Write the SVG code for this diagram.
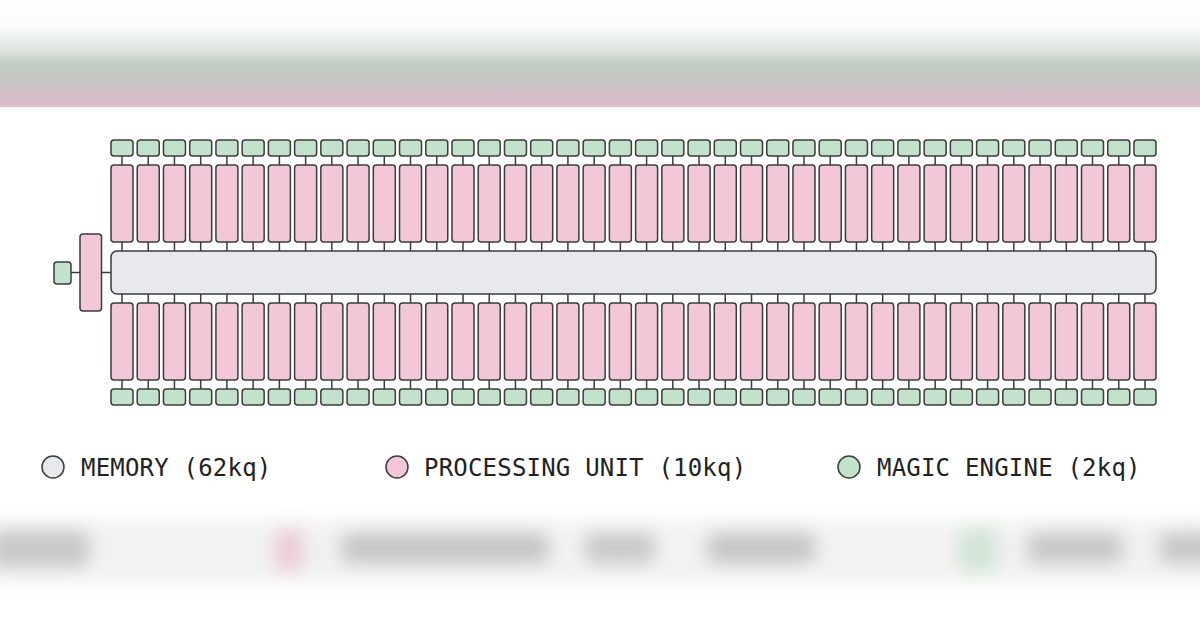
<svg xmlns="http://www.w3.org/2000/svg" xmlns:xlink="http://www.w3.org/1999/xlink" width="1200" height="628" viewBox="0 0 1200 628">
<style>
.mem{fill:#e8e9ec;stroke:#3c3c3c;stroke-width:1.5}
.pu{fill:#f2c8d8;stroke:#3c3c3c;stroke-width:1.5}
.me{fill:#c2e2cb;stroke:#3c3c3c;stroke-width:1.5}
.ln{fill:none;stroke:#3c3c3c;stroke-width:1.5}
.lg{font-family:"DejaVu Sans Mono","Liberation Mono",monospace;font-size:24px;letter-spacing:0.2px;fill:#222}
</style>
<defs>
<linearGradient id="topg" x1="0" y1="0" x2="0" y2="1">
<stop offset="0" stop-color="#ffffff"/>
<stop offset="0.25" stop-color="#fbfbfb"/>
<stop offset="0.45" stop-color="#dfe7e0"/>
<stop offset="0.6" stop-color="#c0cdc1"/>
<stop offset="0.75" stop-color="#c7c5c4"/>
<stop offset="0.9" stop-color="#d4bdc8"/>
<stop offset="1" stop-color="#dbbfcb"/>
</linearGradient>
<filter id="bl" x="-20%" y="-50%" width="140%" height="200%"><feGaussianBlur stdDeviation="9"/></filter>
<path id="conn" d="M11 156V165M11 242V251M11 294V303M11 380V389"/>
<g id="colshape">
<rect class="me" x="0" y="140" width="22" height="16" rx="3"/>
<rect class="pu" x="0" y="165" width="22" height="77" rx="3"/>
<rect class="pu" x="0" y="303" width="22" height="77" rx="3"/>
<rect class="me" x="0" y="389" width="22" height="16" rx="3"/>
</g>
</defs>
<rect width="1200" height="628" fill="#ffffff"/>
<rect x="0" y="0" width="1200" height="107" fill="url(#topg)"/>
<g filter="url(#bl)">
<rect x="-20" y="520" width="1240" height="62" fill="#f2f2f2"/>
<rect x="-10" y="530" width="100" height="38" rx="10" fill="#c8c8c8"/>
<rect x="274" y="528" width="30" height="44" rx="10" fill="#eccbd7"/>
<rect x="340" y="532" width="210" height="32" rx="10" fill="#c6c6c6"/>
<rect x="584" y="532" width="72" height="32" rx="10" fill="#c9c9c9"/>
<rect x="706" y="532" width="110" height="32" rx="10" fill="#c6c6c6"/>
<rect x="958" y="528" width="40" height="44" rx="10" fill="#d0e4d5"/>
<rect x="1026" y="532" width="98" height="32" rx="10" fill="#c8c8c8"/>
<rect x="1158" y="532" width="60" height="32" rx="10" fill="#c8c8c8"/>
</g>
<g id="connectors">
<path class="ln" d="M71 272.5H80M101.5 272.5H111"/>
<g class="ln">
<use xlink:href="#conn" x="111"/><use xlink:href="#conn" x="137.23"/><use xlink:href="#conn" x="163.46"/><use xlink:href="#conn" x="189.69"/><use xlink:href="#conn" x="215.92"/><use xlink:href="#conn" x="242.15"/><use xlink:href="#conn" x="268.38"/><use xlink:href="#conn" x="294.61"/><use xlink:href="#conn" x="320.84"/><use xlink:href="#conn" x="347.07"/>
<use xlink:href="#conn" x="373.3"/><use xlink:href="#conn" x="399.53"/><use xlink:href="#conn" x="425.76"/><use xlink:href="#conn" x="451.99"/><use xlink:href="#conn" x="478.22"/><use xlink:href="#conn" x="504.45"/><use xlink:href="#conn" x="530.68"/><use xlink:href="#conn" x="556.91"/><use xlink:href="#conn" x="583.14"/><use xlink:href="#conn" x="609.37"/>
<use xlink:href="#conn" x="635.6"/><use xlink:href="#conn" x="661.83"/><use xlink:href="#conn" x="688.06"/><use xlink:href="#conn" x="714.29"/><use xlink:href="#conn" x="740.52"/><use xlink:href="#conn" x="766.75"/><use xlink:href="#conn" x="792.98"/><use xlink:href="#conn" x="819.21"/><use xlink:href="#conn" x="845.44"/><use xlink:href="#conn" x="871.67"/>
<use xlink:href="#conn" x="897.9"/><use xlink:href="#conn" x="924.13"/><use xlink:href="#conn" x="950.36"/><use xlink:href="#conn" x="976.59"/><use xlink:href="#conn" x="1002.82"/><use xlink:href="#conn" x="1029.05"/><use xlink:href="#conn" x="1055.28"/><use xlink:href="#conn" x="1081.51"/><use xlink:href="#conn" x="1107.74"/><use xlink:href="#conn" x="1133.97"/>
</g>
</g>
<g id="memory"><rect class="mem" x="111" y="251" width="1045" height="43" rx="6"/></g>
<g id="left-engine"><rect class="me" x="54" y="262" width="17" height="22" rx="3"/></g>
<g id="left-unit"><rect class="pu" x="80" y="234" width="21.5" height="77" rx="3"/></g>
<g id="columns">
<g id="col01"><use xlink:href="#colshape" x="111"/></g>
<g id="col02"><use xlink:href="#colshape" x="137.23"/></g>
<g id="col03"><use xlink:href="#colshape" x="163.46"/></g>
<g id="col04"><use xlink:href="#colshape" x="189.69"/></g>
<g id="col05"><use xlink:href="#colshape" x="215.92"/></g>
<g id="col06"><use xlink:href="#colshape" x="242.15"/></g>
<g id="col07"><use xlink:href="#colshape" x="268.38"/></g>
<g id="col08"><use xlink:href="#colshape" x="294.61"/></g>
<g id="col09"><use xlink:href="#colshape" x="320.84"/></g>
<g id="col10"><use xlink:href="#colshape" x="347.07"/></g>
<g id="col11"><use xlink:href="#colshape" x="373.3"/></g>
<g id="col12"><use xlink:href="#colshape" x="399.53"/></g>
<g id="col13"><use xlink:href="#colshape" x="425.76"/></g>
<g id="col14"><use xlink:href="#colshape" x="451.99"/></g>
<g id="col15"><use xlink:href="#colshape" x="478.22"/></g>
<g id="col16"><use xlink:href="#colshape" x="504.45"/></g>
<g id="col17"><use xlink:href="#colshape" x="530.68"/></g>
<g id="col18"><use xlink:href="#colshape" x="556.91"/></g>
<g id="col19"><use xlink:href="#colshape" x="583.14"/></g>
<g id="col20"><use xlink:href="#colshape" x="609.37"/></g>
<g id="col21"><use xlink:href="#colshape" x="635.6"/></g>
<g id="col22"><use xlink:href="#colshape" x="661.83"/></g>
<g id="col23"><use xlink:href="#colshape" x="688.06"/></g>
<g id="col24"><use xlink:href="#colshape" x="714.29"/></g>
<g id="col25"><use xlink:href="#colshape" x="740.52"/></g>
<g id="col26"><use xlink:href="#colshape" x="766.75"/></g>
<g id="col27"><use xlink:href="#colshape" x="792.98"/></g>
<g id="col28"><use xlink:href="#colshape" x="819.21"/></g>
<g id="col29"><use xlink:href="#colshape" x="845.44"/></g>
<g id="col30"><use xlink:href="#colshape" x="871.67"/></g>
<g id="col31"><use xlink:href="#colshape" x="897.9"/></g>
<g id="col32"><use xlink:href="#colshape" x="924.13"/></g>
<g id="col33"><use xlink:href="#colshape" x="950.36"/></g>
<g id="col34"><use xlink:href="#colshape" x="976.59"/></g>
<g id="col35"><use xlink:href="#colshape" x="1002.82"/></g>
<g id="col36"><use xlink:href="#colshape" x="1029.05"/></g>
<g id="col37"><use xlink:href="#colshape" x="1055.28"/></g>
<g id="col38"><use xlink:href="#colshape" x="1081.51"/></g>
<g id="col39"><use xlink:href="#colshape" x="1107.74"/></g>
<g id="col40"><use xlink:href="#colshape" x="1133.97"/></g>
</g>
<g id="legend">
<g id="lg-memory"><circle class="mem" cx="53" cy="467" r="11"/><text class="lg" x="81" y="475.5">MEMORY (62kq)</text></g>
<g id="lg-unit"><circle class="pu" cx="397" cy="467" r="11"/><text class="lg" x="424" y="475.5">PROCESSING UNIT (10kq)</text></g>
<g id="lg-engine"><circle class="me" cx="849" cy="467" r="11"/><text class="lg" x="877" y="475.5">MAGIC ENGINE (2kq)</text></g>
</g>
</svg>
